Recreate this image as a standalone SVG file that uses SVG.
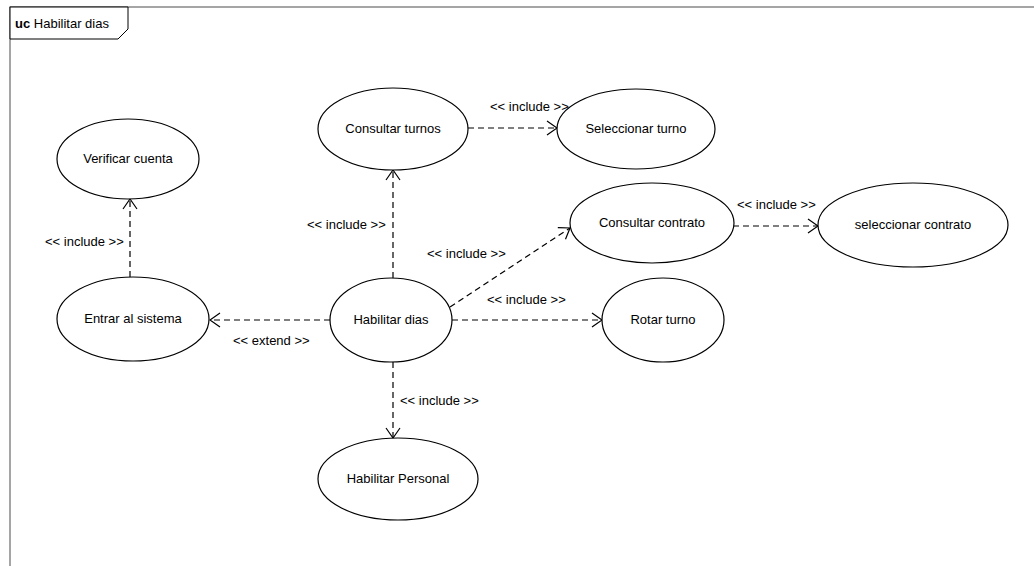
<svg xmlns="http://www.w3.org/2000/svg" width="1034" height="566" viewBox="0 0 1034 566">
<style>
text{font-family:"Liberation Sans",Arial,sans-serif;font-size:13px;fill:#000}
.uc ellipse{fill:#fff;stroke:#000;stroke-width:1.2}
.uc text{text-anchor:middle}
.dep{stroke:#000;stroke-width:1.2;stroke-dasharray:6 4;fill:none;marker-end:url(#open)}
.frame{stroke:#888;stroke-width:1.5;fill:none}
</style>
<defs>
<marker id="open" viewBox="0 0 12 16" refX="11" refY="8" markerWidth="12" markerHeight="16" markerUnits="userSpaceOnUse" orient="auto">
<path d="M1,1 L11,8 L1,15" fill="none" stroke="#000" stroke-width="1.2"/>
</marker>
</defs>
<rect width="1034" height="566" fill="#fff"/>
<g id="frame">
<path class="frame" d="M1034,7 L10,7 L10,566"/>
<path d="M10,7 L128,7 L128,29 L118,39 L10,39 Z" fill="#fff" stroke="#000" stroke-width="1"/>
<text x="15" y="28"><tspan font-weight="bold">uc</tspan> Habilitar dias</text>
</g>
<g id="connectors">
<line class="dep" x1="130" y1="277" x2="130" y2="199"/>
<text x="45" y="246">&lt;&lt; include &gt;&gt;</text>
<line class="dep" x1="393" y1="278" x2="393" y2="170"/>
<text x="307" y="229">&lt;&lt; include &gt;&gt;</text>
<line class="dep" x1="468" y1="128" x2="557" y2="128"/>
<text x="490" y="111">&lt;&lt; include &gt;&gt;</text>
<line class="dep" x1="450" y1="307" x2="570" y2="228"/>
<text x="427" y="258">&lt;&lt; include &gt;&gt;</text>
<line class="dep" x1="452" y1="320" x2="602" y2="320"/>
<text x="487" y="304">&lt;&lt; include &gt;&gt;</text>
<line class="dep" x1="330" y1="320" x2="210" y2="320"/>
<text x="233" y="345">&lt;&lt; extend &gt;&gt;</text>
<line class="dep" x1="733" y1="226" x2="818" y2="226"/>
<text x="737" y="209">&lt;&lt; include &gt;&gt;</text>
<line class="dep" x1="393" y1="362" x2="393" y2="438"/>
<text x="400" y="405">&lt;&lt; include &gt;&gt;</text>
</g>
<g id="verificar-cuenta" class="uc"><ellipse cx="128" cy="159" rx="71" ry="40"/><text x="128" y="163">Verificar cuenta</text></g>
<g id="entrar-al-sistema" class="uc"><ellipse cx="133" cy="319" rx="76" ry="42"/><text x="133" y="323">Entrar al sistema</text></g>
<g id="habilitar-dias" class="uc"><ellipse cx="391" cy="320" rx="61" ry="42"/><text x="391" y="324">Habilitar dias</text></g>
<g id="consultar-turnos" class="uc"><ellipse cx="393" cy="129" rx="75" ry="41"/><text x="393" y="133">Consultar turnos</text></g>
<g id="seleccionar-turno" class="uc"><ellipse cx="636" cy="129" rx="79" ry="40"/><text x="636" y="133">Seleccionar turno</text></g>
<g id="consultar-contrato" class="uc"><ellipse cx="652" cy="223" rx="82" ry="40"/><text x="652" y="227">Consultar contrato</text></g>
<g id="seleccionar-contrato" class="uc"><ellipse cx="913" cy="225" rx="95" ry="42"/><text x="913" y="229">seleccionar contrato</text></g>
<g id="rotar-turno" class="uc"><ellipse cx="663" cy="320" rx="61" ry="42"/><text x="663" y="324">Rotar turno</text></g>
<g id="habilitar-personal" class="uc"><ellipse cx="398" cy="479" rx="80" ry="41"/><text x="398" y="483">Habilitar Personal</text></g>
</svg>
